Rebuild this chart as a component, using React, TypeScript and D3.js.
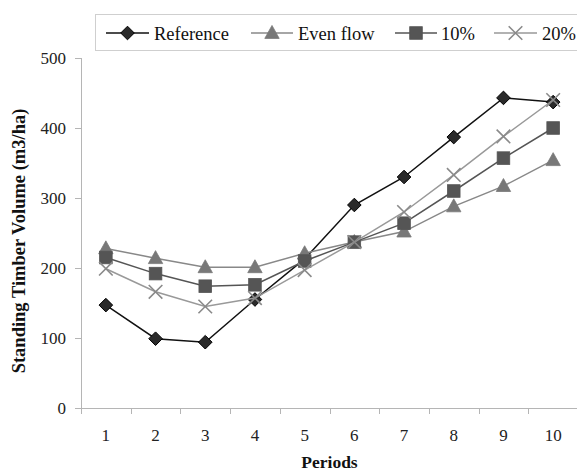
import React from "react";
import * as d3 from "d3";

const periods = ["1", "2", "3", "4", "5", "6", "7", "8", "9", "10"];
const referenceValues = [147, 99, 94, 155, 213, 290, 330, 387, 443, 437];
const evenFlowValues = [228, 214, 201, 201, 221, 237, 252, 288, 317, 354];
const tenPctValues = [215, 192, 174, 176, 210, 237, 264, 310, 357, 400];
const twentyPctValues = [199, 166, 145, 157, 197, 237, 280, 333, 388, 440];
const yTicks = [0, 100, 200, 300, 400, 500];
const seriesNames = ["Reference", "Even flow", "10%", "20%"];

const W = 577;
const H = 471;
const left = 81;
const right = 578;
const top = 58;
const bottom = 408;
const FONT = "'Liberation Serif', 'Times New Roman', serif";

type Marker = "diamond" | "triangle" | "square" | "x";

const series: { name: string; values: number[]; line: string; fill: string; stroke: string; marker: Marker }[] = [
  { name: seriesNames[0], values: referenceValues, line: "#111", fill: "#2a2a2a", stroke: "#000", marker: "diamond" },
  { name: seriesNames[1], values: evenFlowValues, line: "#888", fill: "#787878", stroke: "#787878", marker: "triangle" },
  { name: seriesNames[2], values: tenPctValues, line: "#555", fill: "#555", stroke: "#555", marker: "square" },
  { name: seriesNames[3], values: twentyPctValues, line: "#999", fill: "none", stroke: "#8a8a8a", marker: "x" },
];

function MarkerShape({ type, x, y, fill, stroke }: { type: Marker; x: number; y: number; fill: string; stroke: string }) {
  if (type === "diamond") {
    const r = 6.8;
    return <path d={`M${x},${y - r}L${x + r},${y}L${x},${y + r}L${x - r},${y}Z`} fill={fill} stroke={stroke} strokeWidth={1} />;
  }
  if (type === "triangle") {
    const s = 7.2;
    return <path d={`M${x},${y - s * 1.05}L${x + s},${y + s * 0.75}L${x - s},${y + s * 0.75}Z`} fill={fill} stroke={stroke} strokeWidth={0.8} />;
  }
  if (type === "square") {
    const s = 6.3;
    return <rect x={x - s} y={y - s} width={2 * s} height={2 * s} fill={fill} stroke={stroke} strokeWidth={0.8} />;
  }
  const s = 6.8;
  return <path d={`M${x - s},${y - s}L${x + s},${y + s}M${x - s},${y + s}L${x + s},${y - s}`} fill="none" stroke={stroke} strokeWidth={1.6} />;
}

export default function App() {
  const x = d3.scaleBand<string>().domain(periods).range([left, right]);
  const y = d3.scaleLinear().domain([0, 500]).range([bottom, top]);
  const line = d3
    .line<number>()
    .x((_, i) => (x(periods[i]) as number) + x.bandwidth() / 2)
    .y((v) => y(v));

  const boundaries = d3.range(periods.length + 1).map((i) => left + i * x.step());

  const legendItems = [
    { lx1: 106, lx2: 149, tx: 154 },
    { lx1: 251, lx2: 293, tx: 298 },
    { lx1: 395, lx2: 437, tx: 441 },
    { lx1: 494, lx2: 537, tx: 542 },
  ];
  const legendY = 33;

  return (
    <svg
      width={W}
      height={H}
      style={{ position: "absolute", left: 0, top: 0, display: "block", background: "#fff" }}
      fontFamily={FONT}
    >
      {/* y axis */}
      <line x1={left + 0.5} x2={left + 0.5} y1={top} y2={bottom} stroke="#b5b5b5" strokeWidth={1} />
      {yTicks.map((t) => (
        <g key={t}>
          <line x1={left - 6} x2={left} y1={Math.round(y(t)) + 0.5} y2={Math.round(y(t)) + 0.5} stroke="#b5b5b5" />
          <text x={66} y={y(t) + 6} textAnchor="end" fontSize={17} fill="#222">
            {t}
          </text>
        </g>
      ))}
      {/* x axis */}
      <line x1={left - 6} x2={right} y1={bottom + 0.5} y2={bottom + 0.5} stroke="#b5b5b5" />
      {boundaries.map((b, i) => (
        <line key={i} x1={Math.round(b) + 0.5} x2={Math.round(b) + 0.5} y1={bottom} y2={bottom + 6} stroke="#b5b5b5" />
      ))}
      {periods.map((p) => (
        <text key={p} x={(x(p) as number) + x.bandwidth() / 2} y={441} textAnchor="middle" fontSize={17} fill="#222">
          {p}
        </text>
      ))}
      {/* axis titles */}
      <text x={(left + right) / 2} y={468} textAnchor="middle" fontSize={17.5} fontWeight="bold" fill="#111">
        Periods
      </text>
      <text
        transform={`translate(25, ${(top + bottom) / 2 + 8}) rotate(-90)`}
        textAnchor="middle"
        fontSize={18.5}
        fontWeight="bold"
        fill="#111"
      >
        Standing Timber Volume (m3/ha)
      </text>

      {/* series */}
      {series.map((s) => (
        <g key={s.name}>
          <path d={line(s.values) || ""} fill="none" stroke={s.line} strokeWidth={1.5} />
          {s.values.map((v, i) => (
            <MarkerShape
              key={i}
              type={s.marker}
              x={(x(periods[i]) as number) + x.bandwidth() / 2}
              y={y(v)}
              fill={s.fill}
              stroke={s.stroke}
            />
          ))}
        </g>
      ))}

      {/* legend */}
      <rect x={95.5} y={14.5} width={490} height={36} fill="#fff" stroke="#cfcfcf" strokeWidth={1} />
      {series.map((s, i) => {
        const it = legendItems[i];
        return (
          <g key={s.name}>
            <line x1={it.lx1} x2={it.lx2} y1={legendY} y2={legendY} stroke={s.line} strokeWidth={1.5} />
            <MarkerShape type={s.marker} x={(it.lx1 + it.lx2) / 2} y={legendY} fill={s.fill} stroke={s.stroke} />
            <text x={it.tx} y={legendY + 6.5} fontSize={18.5} fill="#111">
              {s.name}
            </text>
          </g>
        );
      })}
    </svg>
  );
}
